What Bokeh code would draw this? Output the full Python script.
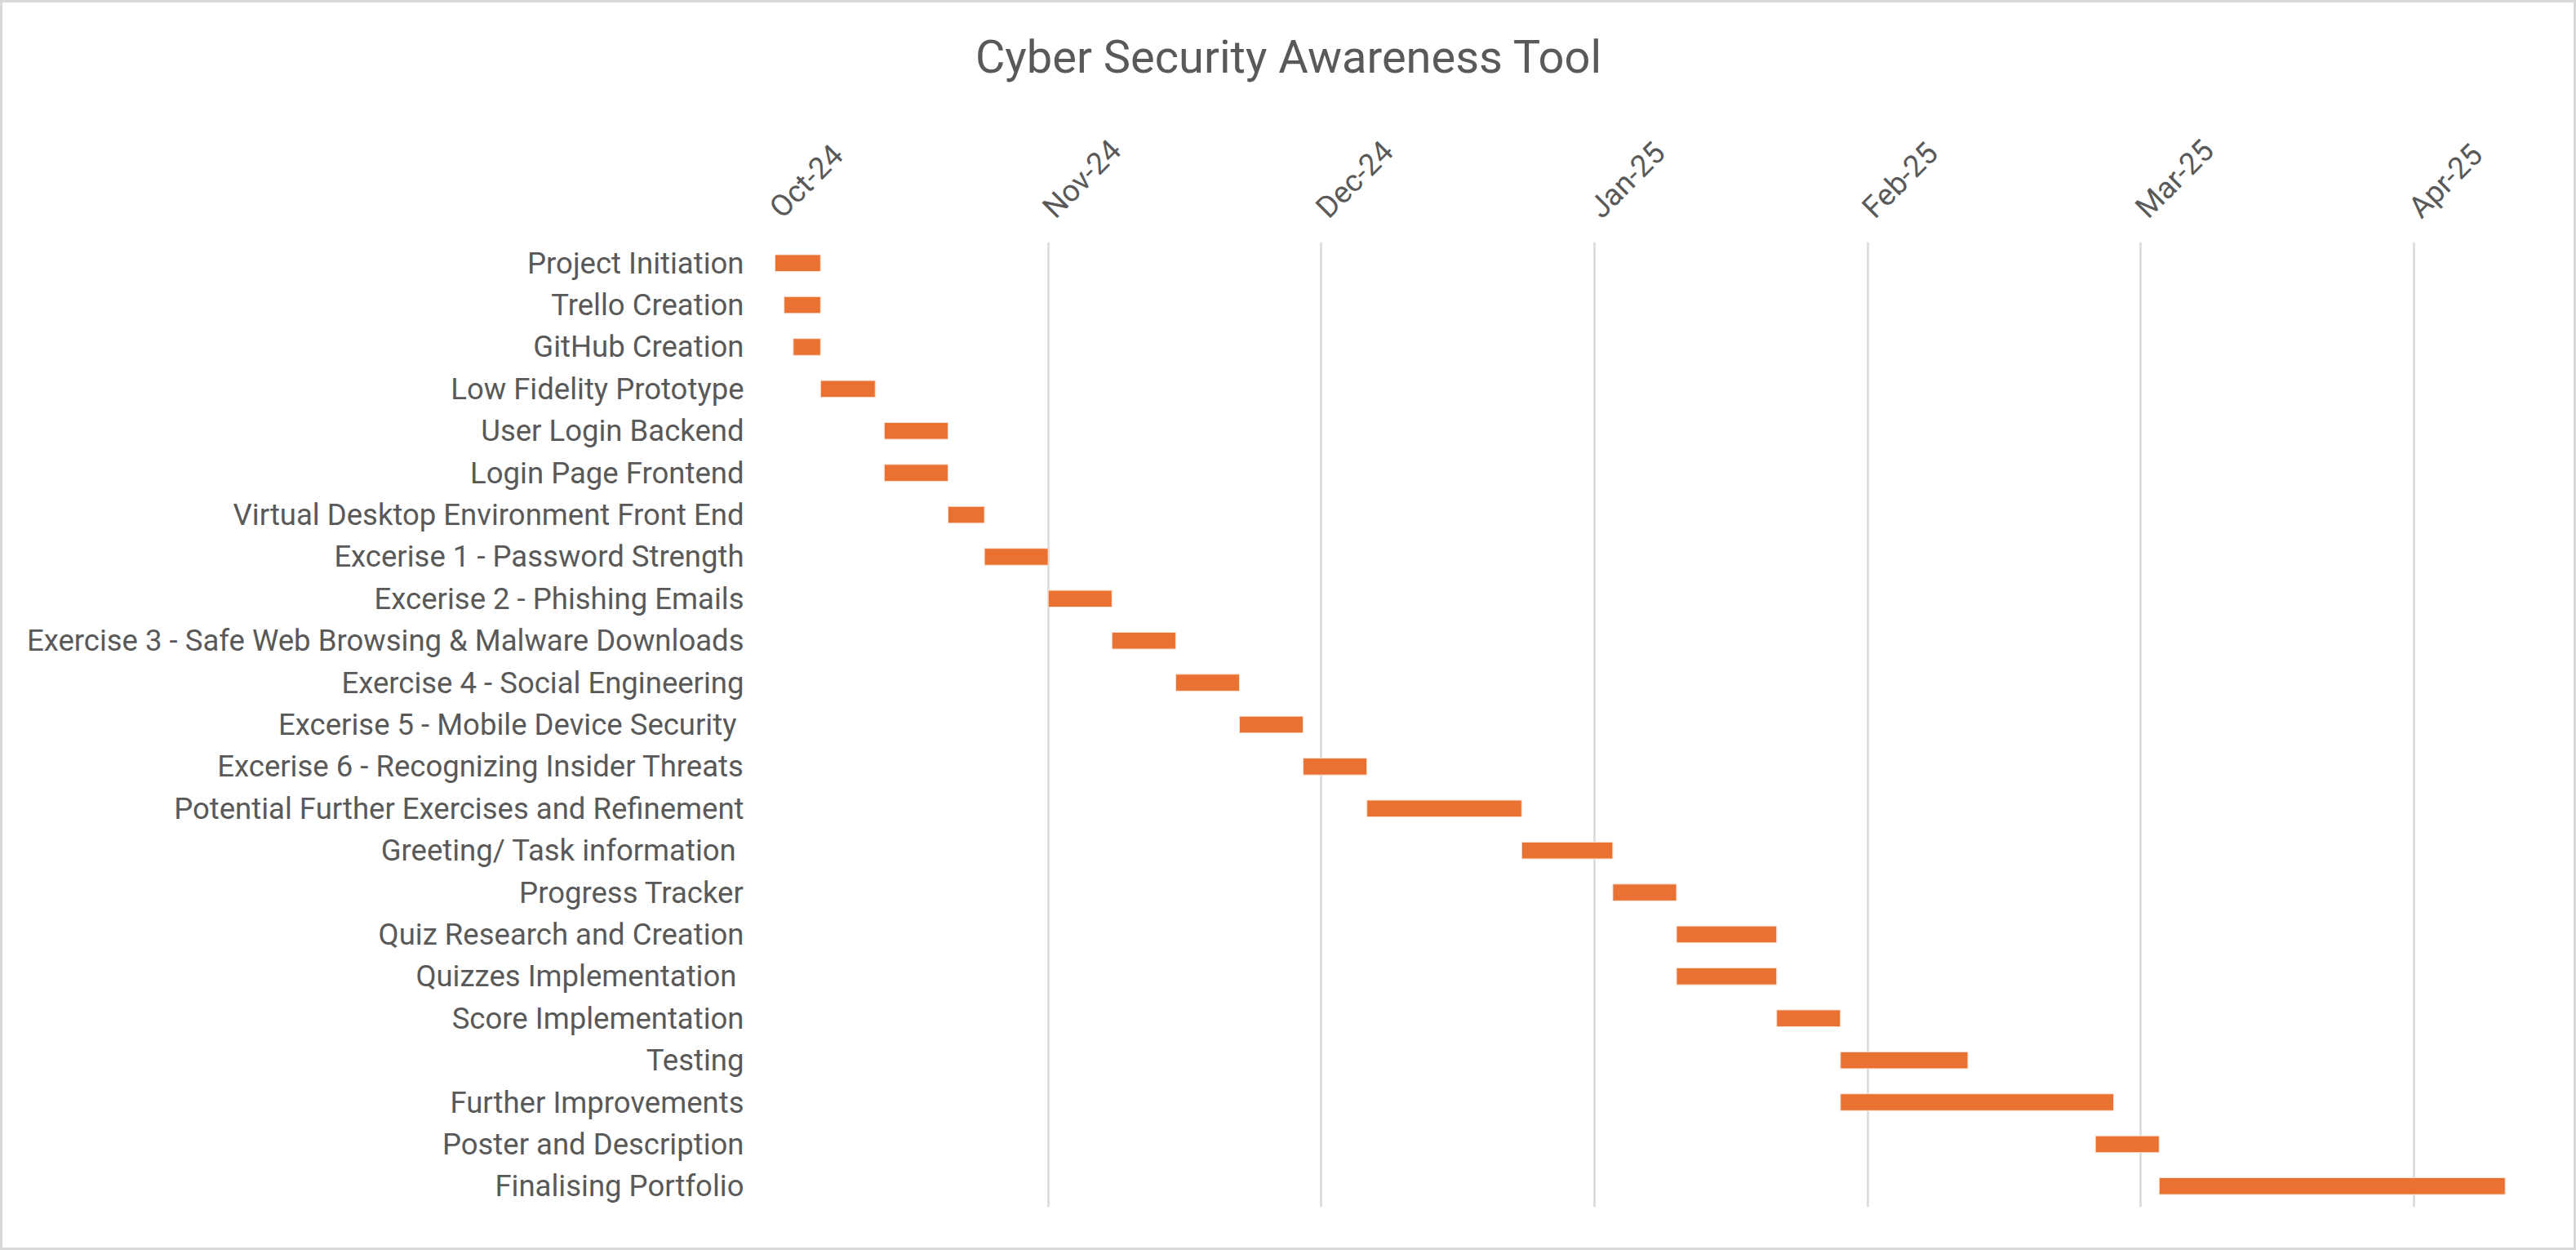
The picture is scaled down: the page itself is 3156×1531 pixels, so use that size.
import math
from bokeh.plotting import figure
from bokeh.layouts import column
from bokeh.models import ColumnDataSource, FactorRange, Range1d, FixedTicker, Label
from bokeh.embed import file_html
from bokeh.resources import INLINE

# ---- data ----
title_text = "Cyber Security Awareness Tool"
tasks = [
    "Project Initiation",
    "Trello Creation",
    "GitHub Creation",
    "Low Fidelity Prototype",
    "User Login Backend",
    "Login Page Frontend",
    "Virtual Desktop Environment Front End",
    "Excerise 1 - Password Strength",
    "Excerise 2 - Phishing Emails",
    "Exercise 3 - Safe Web Browsing & Malware Downloads",
    "Exercise 4 - Social Engineering",
    "Excerise 5 - Mobile Device Security ",
    "Excerise 6 - Recognizing Insider Threats",
    "Potential Further Exercises and Refinement",
    "Greeting/ Task information ",
    "Progress Tracker",
    "Quiz Research and Creation",
    "Quizzes Implementation ",
    "Score Implementation",
    "Testing",
    "Further Improvements",
    "Poster and Description",
    "Finalising Portfolio",
]
# days from the start of the time axis
start_day = [0, 1, 2, 5, 12, 12, 19, 23, 30, 37, 44, 51, 58, 65, 82, 92, 99, 99, 110, 117, 117, 145, 152]
duration_days = [5, 4, 3, 6, 7, 7, 4, 7, 7, 7, 7, 7, 7, 17, 10, 7, 11, 11, 7, 14, 30, 7, 38]
tick_days = [0, 30, 60, 90, 120, 150, 180]
tick_labels = ["Oct-24", "Nov-24", "Dec-24", "Jan-25", "Feb-25", "Mar-25", "Apr-25"]
axis_end_day = 193.7

end_day = [s + d for s, d in zip(start_day, duration_days)]
source = ColumnDataSource(dict(task=tasks, start=start_day, end=end_day))

FONT = "Roboto"
TXT = "#595959"
TITLE_H = 120
ML, MR = 946, 43

# ---- title strip ----
t = figure(width=3150, height=TITLE_H, x_range=Range1d(0, 1), y_range=Range1d(0, 1),
           output_backend="svg", toolbar_location=None,
           min_border_left=ML, min_border_right=MR, min_border_top=0, min_border_bottom=0)
t.axis.visible = False
t.grid.grid_line_color = None
t.outline_line_color = None
t.border_fill_color = "white"
t.background_fill_color = "white"
t.add_layout(Label(x=1575.5, y=66, x_units="canvas", y_units="canvas", text=title_text,
                   text_font=FONT, text_font_size="56px", text_color=TXT,
                   text_align="center", text_baseline="alphabetic"))

# ---- gantt ----
p = figure(
    width=3150, height=1525 - TITLE_H,
    y_range=FactorRange(factors=list(reversed(tasks))),
    x_range=Range1d(0, axis_end_day),
    x_axis_location="above",
    output_backend="svg", toolbar_location=None,
    min_border_left=ML, min_border_right=MR, min_border_top=293 - TITLE_H, min_border_bottom=50,
)

p.hbar(y="task", left="start", right="end", height=0.4, source=source,
       fill_color="#E97132", line_color="#FBE3D6", line_width=1)

p.outline_line_color = None
p.background_fill_color = "white"
p.border_fill_color = "white"

p.xgrid.ticker = FixedTicker(ticks=tick_days)
p.xgrid.grid_line_color = "#D9D9D9"
p.xgrid.grid_line_width = 2.5
p.ygrid.grid_line_color = None

xa = p.xaxis[0]
xa.ticker = FixedTicker(ticks=tick_days)
xa.major_label_overrides = {d: l for d, l in zip(tick_days, tick_labels)}
xa.major_label_orientation = math.pi / 4
xa.major_label_text_font = FONT
xa.major_label_text_font_size = "37px"
xa.major_label_text_color = TXT
xa.axis_line_color = None
xa.major_tick_line_color = None
xa.minor_tick_line_color = None
xa.major_label_standoff = 30

ya = p.yaxis[0]
ya.major_label_text_font = FONT
ya.major_label_text_font_size = "36.5px"
ya.major_label_text_color = TXT
ya.axis_line_color = None
ya.major_tick_line_color = None
ya.minor_tick_line_color = None
ya.major_tick_out = 0
ya.major_label_standoff = 38

layout = column(t, p, spacing=0)
layout.styles = {"border": "3px solid #D9D9D9", "background-color": "white"}

open("out.html", "w").write(file_html(layout, INLINE))
